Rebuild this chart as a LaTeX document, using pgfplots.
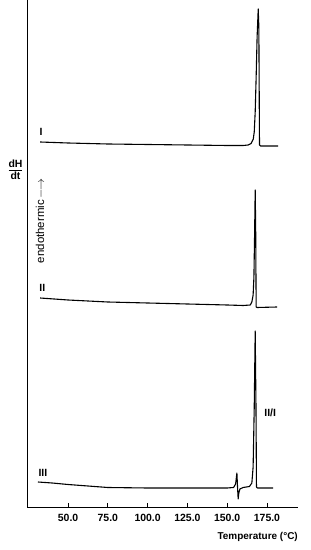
\documentclass[border=0pt]{standalone}
\usepackage{pgfplots}
\pgfplotsset{compat=1.18}
\usepackage{fontspec}
\setmainfont{Liberation Sans}
\begin{document}
\begin{tikzpicture}
\begin{axis}[name=ax, scale only axis, width=271bp, height=507bp,
 xmin=24.2, xmax=194.5, ymin=0, ymax=507,
 axis x line=bottom, axis y line=left,
 axis line style={-, line width=1pt},
 xtick={50,75,100,125,150,175}, ytick=\empty,
 tick align=inside, major tick length=3.5bp,
 tick style={line width=0.9pt, black},
 /pgf/number format/assume math mode=true,
 xticklabel style={yshift=-3.5bp, font=\bfseries\fontsize{10.5}{11}\selectfont, /pgf/number format/.cd, fixed, fixed zerofill, precision=1},
 clip=false]
% Curve I
\addplot[black, line width=1.1pt, line join=round] coordinates {
(32.4,365) (50,364) (75,363) (100,362.5) (125,362) (150,361.5) (160,361.5)
(163.2,362) (165,363.5) (166.4,368) (167,375) (167.6,395) (168.2,430) (168.8,470) (169.5,498) (169.9,480) (170.3,362) (171,361) (182,361)};
% Curve II
\addplot[black, line width=1.1pt, line join=round] coordinates {
(32.4,209) (50,207) (75,205) (100,204) (125,203) (150,202) (160,201.5)
(164.5,202) (165.5,205) (166.3,212) (166.8,230) (167.2,270) (167.6,317) (167.9,280) (168.2,200) (168.8,199.5) (181.4,200)};
% Curve III
\addplot[black, line width=1.1pt, line join=round] coordinates {
(31.1,25) (40,24) (50,22.5) (75,19.5) (100,19) (125,19) (150,19) (154,19.5)
(155.3,23) (156.1,34) (156.5,20) (156.9,8) (157.3,14) (158,18) (160,19.5) (164,20.5)
(165.5,24) (166.3,40) (167,100) (167.6,176) (168.1,100) (168.4,20) (169,19) (178.9,19)};
\node[font=\bfseries\fontsize{10.5}{11}\selectfont] at (axis cs:33,375) {I};
\node[font=\bfseries\fontsize{10.5}{11}\selectfont] at (axis cs:33.8,219) {II};
\node[font=\bfseries\fontsize{10.5}{11}\selectfont] at (axis cs:34.2,34) {III};
\node[font=\bfseries\fontsize{10.5}{11}\selectfont] at (axis cs:177,94) {II/I};
\node[rotate=90, font=\fontsize{11.5}{12}\selectfont] at (axis cs:32.4,286) {endothermic\,$\longrightarrow$};
\node[font=\bfseries\fontsize{10.5}{11}\selectfont, inner sep=0pt] at ([xshift=-11.5bp]axis cs:24.2,336) {\begin{tabular}{@{}c@{}}dH\\[-1pt]\hline\rule{0pt}{9pt}dt\end{tabular}};
\end{axis}
\node[anchor=east, inner sep=0pt, font=\bfseries\fontsize{10}{11}\selectfont] at ([yshift=-29.5bp]ax.south east) {Temperature (°C)};
\pgfresetboundingbox
\path ([xshift=-27bp,yshift=-43bp]ax.south west) rectangle ([xshift=13bp]ax.north east);
\end{tikzpicture}
\end{document}
